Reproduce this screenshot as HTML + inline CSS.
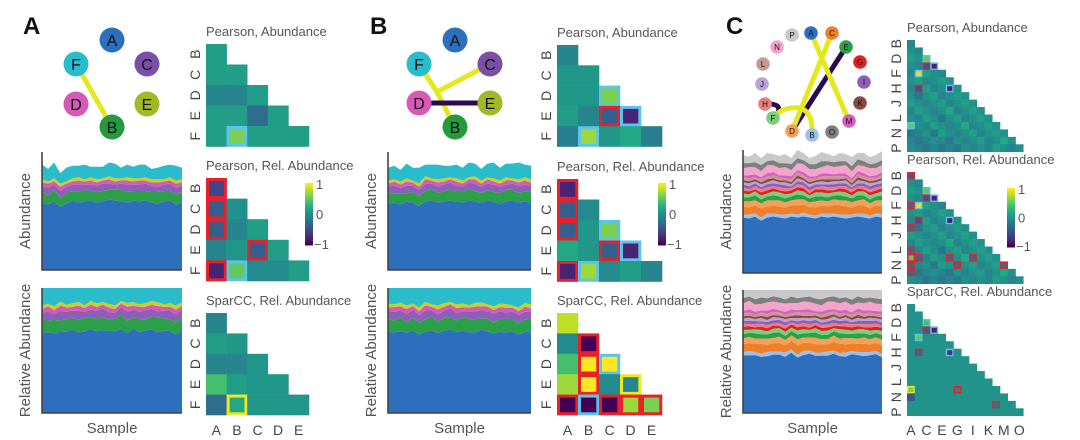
<!DOCTYPE html>
<html><head><meta charset="utf-8">
<style>
html,body{margin:0;padding:0;background:#fff;}
svg{display:block;font-family:"Liberation Sans",sans-serif;}
</style></head>
<body>
<svg id="fig" width="1080" height="440" viewBox="0 0 1080 440" xmlns="http://www.w3.org/2000/svg"></svg>
<script>
// ---------- data ----------
const lettersAB = ["A","B","C","D","E","F"];
const rowLabAB = ["B","C","D","E","F"];
const colLabAB = ["A","B","C","D","E"];
const rowLabC = ["B","C","D","E","F","G","H","I","J","K","L","M","N","O","P"];
const colLabC = ["A","B","C","D","E","F","G","H","I","J","K","L","M","N","O"];

const hmA1 = [[0.1],[0.1,0.1],[-0.1,-0.1,0.1],[0.1,0.1,-0.3,0.1],[0.1,0.6,0.1,0.1,0.1]];
const bdA1 = [[""],["",""],["","",""],["","","",""],["","c","","",""]];
const hmA2 = [[-0.6],[-0.4,0],[-0.4,-0.1,0.1],[-0.1,0.05,-0.4,0.1],[-0.8,0.5,-0.05,-0.05,0.1]];
const bdA2 = [["r"],["r",""],["r","",""],["","","r",""],["r","c","","",""]];
const hmA3 = [[-0.1],[0.1,0.05],[-0.1,-0.1,0.05],[0.4,0.1,0.05,0.05],[-0.3,0.2,0.05,0.05,0.05]];
const bdA3 = [[""],["",""],["","",""],["","","",""],["","y","","",""]];

const hmB1 = [[-0.1],[0.05,0.05],[0.05,0.05,0.6],[0.1,-0.1,-0.4,-0.8],[-0.15,0.7,0.05,0.2,-0.15]];
const bdB1 = [[""],["",""],["","","c"],["","","r","c"],["","c","","",""]];
const hmB2 = [[-0.8],[-0.4,-0.05],[-0.4,0.05,0.6],[0.2,0.05,-0.4,-0.8],[-0.8,0.7,-0.05,0.1,-0.1]];
const bdB2 = [["r"],["r",""],["r","","c"],["","","r","c"],["r","c","","",""]];
const hmB3 = [[0.8],[-0.05,-1],[0.4,1,1],[0.7,1,-0.05,-0.1],[-1,-1,-1,0.7,0.6]];
const bdB3 = [[""],["","r"],["","r","c"],["","r","","y"],["r","c","r","r","r"]];

const bgC = [
 [-0.1],
 [0,-0.1],
 [0.1,0,0.1],
 [0,-0.1,0,0.1],
 [-0.1,0,0.1,0,-0.1],
 [0,0.1,-0.1,0,0.1,0],
 [-0.1,0,0.1,-0.1,0,0.1,0],
 [0,-0.2,0,0.1,-0.1,0,0.1,0],
 [0.1,0,-0.1,0,0.1,-0.1,0,0.1,0],
 [-0.1,0.1,0,-0.1,0,0.2,-0.1,0,0.1,0],
 [0,-0.1,0.1,0,-0.2,0,0.1,-0.1,0,0.1,0],
 [0.1,0,-0.1,0.1,0,-0.1,0,0.2,-0.1,0,0.1,0],
 [-0.2,-0.1,0,-0.2,0.1,0,-0.1,0,0.1,-0.1,0,0.1,0],
 [-0.1,-0.2,-0.1,0,-0.1,-0.2,0,-0.1,0,0.1,-0.1,0,0.2,0],
 [0,-0.1,-0.2,-0.1,-0.2,-0.1,-0.2,0,-0.1,0,-0.1,0.1,0,-0.1,0]
];
const ovC1 = [[2,2,0.5,"c"],[3,2,-0.5,"r"],[3,3,-0.8,"c"],[4,1,0.9,"c"],[6,1,-0.5,"r"],[6,5,-0.8,"c"],[11,0,0.5,"c"]];
const ovC2 = [[0,0,-0.4,"r"],[2,2,0.5,"c"],[3,2,-0.5,"r"],[3,3,-0.8,"c"],[4,0,-0.3,"r"],[4,1,0.9,"c"],[6,1,-0.5,"r"],[6,5,-0.8,"c"],[7,0,-0.3,"r"],[10,0,-0.3,"r"],[11,0,0.5,"r"],[11,1,-0.3,"r"],[11,5,-0.3,"r"],[11,8,-0.3,"r"],[12,0,-0.3,"r"],[12,6,-0.3,"r"],[12,12,-0.3,"r"],[13,0,-0.3,"r"]];
const ovC3 = [[2,2,0.4,"c"],[3,2,-0.4,"r"],[3,3,-0.8,"c"],[4,1,0.5,"c"],[6,1,-0.3,"r"],[6,5,-0.7,"c"],[11,0,0.6,"y"],[11,6,-0.1,"r"],[12,0,-0.5,""],[13,11,-0.2,"r"]];

const abBlue   = [64,62,65,60,63,66,64,65,66,64,65,67,66,65,64,66,65,66,64,63,65,66,62,64];
const abGreen  = [10,9,11,8,10,9,10,11,9,10,10,9,10,11,10,9,10,9,10,11,10,9,10,10];
const abPurple = [6,7,5,7,6,6,7,5,6,6,7,6,5,6,7,6,6,7,6,5,6,7,6,6];
const abPink   = [3,4,3,4,3,3,4,3,4,3,3,4,3,3,4,3,4,3,3,4,3,3,4,3];
const abYgreen = [3,2,3,3,2,3,3,2,3,3,2,3,3,2,3,3,2,3,3,3,2,3,3,3];
const abCyan   = [14,12,15,10,13,12,11,14,10,12,11,13,14,10,12,11,13,12,10,11,13,12,14,11];
const bbBlue   = [63,64,62,65,64,61,65,66,64,65,66,65,64,66,65,64,66,65,63,65,66,64,65,64];
const bbCyan   = [12,13,11,14,12,15,11,13,14,12,11,13,12,14,12,11,13,15,12,13,14,16,12,13];

const cA = [55,54,56,52,55,56,55,54,56,55,56,55,54,56,55,56,55,54,55,56,55,54,56,55];
const cB = [3,4,3,3,4,3,3,4,3,3,4,3,3,3,4,3,3,4,3,3,4,3,3,3];
const cC = [8,7,8,9,7,8,8,7,8,9,8,7,8,8,7,8,9,8,7,8,8,7,8,8];
const cD = [5,6,5,5,6,5,6,5,5,6,5,5,6,5,5,6,5,6,5,5,6,5,5,6];
const cE = [4,4,5,4,4,5,4,4,4,5,4,4,5,4,4,4,5,4,4,5,4,4,4,5];
const cF = [4,3,4,4,3,4,4,4,3,4,4,3,4,4,4,3,4,4,3,4,4,4,3,4];
const cG = [3,3,2,3,3,3,2,3,3,3,3,2,3,3,3,2,3,3,3,3,2,3,3,3];
const cH = [3,2,3,3,3,2,3,3,2,3,3,3,2,3,3,3,2,3,3,2,3,3,3,2];
const cI = [3,3,3,2,3,3,3,3,2,3,3,3,3,2,3,3,3,3,2,3,3,3,3,3];
const cJ = [2,3,2,3,2,3,2,3,2,3,2,3,2,3,2,3,2,3,2,3,2,3,2,3];
const cK = [2,2,2,2,3,2,2,2,2,3,2,2,2,2,3,2,2,2,2,3,2,2,2,2];
const cL = [3,3,2,3,3,3,3,2,3,3,3,3,2,3,3,3,3,2,3,3,3,3,2,3];
const cM = [2,3,3,2,3,3,2,3,3,2,3,3,2,3,3,2,3,3,2,3,3,2,3,3];
const cN = [7,8,7,6,8,7,7,8,6,7,8,7,7,6,8,7,7,8,7,6,7,8,7,7];
const cO = [5,4,5,6,4,5,5,4,6,5,4,5,5,6,4,5,5,4,5,6,5,4,5,5];
const cP = [8,6,9,7,8,6,7,9,6,8,7,6,8,9,7,6,8,7,9,6,8,7,8,9];

// ---------- helpers ----------
const NS = "http://www.w3.org/2000/svg";
const svg = document.getElementById("fig");
function mk(tag, attrs, parent){
  const e = document.createElementNS(NS, tag);
  for (const k in attrs) e.setAttribute(k, attrs[k]);
  (parent||svg).appendChild(e);
  return e;
}
function txt(s, x, y, size, fill, parent, extra){
  const t = mk("text", Object.assign({x:x, y:y, "font-size":size, fill:fill}, extra||{}), parent);
  t.textContent = s;
  return t;
}
const vstops = ["#440154","#482475","#414487","#355f8d","#2a788e","#21918c","#22a884","#44bf70","#7ad151","#bddf26","#fde725"];
function hex2rgb(h){return [parseInt(h.slice(1,3),16),parseInt(h.slice(3,5),16),parseInt(h.slice(5,7),16)];}
function viridis(v){
  let t = Math.max(0, Math.min(1, (v+1)/2)) * 10;
  const i = Math.min(9, Math.floor(t)), f = t - i;
  const a = hex2rgb(vstops[i]), b = hex2rgb(vstops[i+1]);
  return "rgb(" + a.map((c,k)=>Math.round(c+(b[k]-c)*f)).join(",") + ")";
}
const bcol = {r:"#e8202a", c:"#5cc3ea", y:"#eee81c"};

function heatmap(name, x0, y0, cw, ch, vals, borders, rowLab, colLab, every, title, inset){
  const g = mk("g", {}, svg);
  
  
  const tt = txt(title, x0, y0 - 8, 13, "#555", g);
  
  
  const x = c => x0 + c*cw, y = r => y0 + r*ch;
  vals.forEach((row, r) => {
    row.forEach((v, c) => {
      const b = borders ? borders[r][c] : "";
      if (b) {
        const o = mk("rect", {x:x(c), y:y(r), width:cw+0.3, height:ch+0.3, fill:bcol[b]}, g);
        
        
        const cell = mk("rect", {x:x(c)+inset, y:y(r)+inset, width:cw-2*inset+0.3, height:ch-2*inset+0.3, fill:viridis(v)}, g);
        
        
      } else {
        const cell = mk("rect", {x:x(c), y:y(r), width:cw+0.3, height:ch+0.3, fill:viridis(v)}, g);
        
        
      }
    });
  });
  rowLab.forEach((s, r) => {
    if (r % every) return;
    const cx = x0 - 11, cy = y(r) + ch/2;
    const t = txt(s, cx, cy + 5, 14, "#444", g, {"text-anchor":"middle", transform:"rotate(-90 "+cx+" "+cy+")"});
    
    
  });
  if (colLab) colLab.forEach((s, c) => {
    if (c % every) return;
    const t = txt(s, x(c) + cw/2, 435, 14, "#444", g, {"text-anchor":"middle"});
    
    
  });
}
function buildC(bg, ov){
  const vals = bg.map(r => r.slice());
  const bd = bg.map(r => r.map(() => ""));
  ov.forEach(o => { vals[o[0]][o[1]] = o[2]; bd[o[0]][o[1]] = o[3]; });
  return [vals, bd];
}
function colorbar(name, x, y, w, h){
  const g = mk("g", {}, svg);
  
  
  const n = 40;
  for (let i = 0; i < n; i++) {
    mk("rect", {x:x, y:y + i*h/n, width:w, height:h/n+0.5, fill:viridis(1 - 2*i/(n-1))}, g);
  }
  txt("1", x+w+3, y+6, 13, "#555", g);
  txt("0", x+w+3, y+h/2+5, 13, "#555", g);
  txt("\u22121", x+w+1, y+h+4, 13, "#555", g);
}
function stack(name, x0, yTop, w, h, layers, colors, maxV, normalize, yTitle, showSample){
  const g = mk("g", {}, svg);
  
  
  const n = layers[0].length;
  const tot = layers[0].map((_, i) => layers.reduce((s, L) => s + L[i], 0));
  const sx = i => x0 + i * w / (n-1);
  const sy = v => yTop + h - v / maxV * h;
  let base = new Array(n).fill(0);
  layers.forEach((L, k) => {
    const top = L.map((v, i) => base[i] + (normalize ? v / tot[i] : v));
    let pts = top.map((v, i) => sx(i) + "," + sy(v));
    for (let i = n-1; i >= 0; i--) pts.push(sx(i) + "," + sy(base[i]));
    const p = mk("polygon", {points:pts.join(" "), fill:colors[k]}, g);
    
    
    base = top;
  });
  const ax = mk("path", {d:"M"+x0+","+yTop+" V"+(yTop+h)+" H"+(x0+w), stroke:"#444", "stroke-width":1.6, fill:"none"}, g);
  
  
  const cx = x0 - 12, cy = yTop + h/2;
  const yt = txt(yTitle, cx, cy, 15, "#555", g, {"text-anchor":"middle", transform:"rotate(-90 "+cx+" "+cy+")"});
  
  
  if (showSample) {
    const st = txt("Sample", x0 + w/2, yTop + h + 20, 15, "#555", g, {"text-anchor":"middle"});
    
    
  }
}
function node(g, x, y, r, col, lab, fs){
  const c = mk("circle", {cx:x, cy:y, r:r, fill:col}, g);
  
  
  txt(lab, x, y + fs*0.36, fs, "#111", g, {"text-anchor":"middle"});
}
function panelLabel(s, x){
  const t = txt(s, x, 34, 24, "#111", svg, {"font-weight":"bold"});
  
  
}

// ---------- panel A ----------
const colAB = ["#2e6fbd","#2ca048","#8e5fb8","#d659b5","#c4d126","#2bbccc"];
const nodeColAB = {A:"#2e6fbd",B:"#249a3f",C:"#7a4fa6",D:"#d659b5",E:"#a2b925",F:"#2bbccc"};
panelLabel("A", 23);
(function(){
  const g = mk("g", {}, svg);
  
  
  const pos = {A:[112,40],C:[147,64],E:[147,104],B:[112,127],D:[76,104],F:[76,64]};
  mk("line", {x1:76, y1:64, x2:112, y2:127, stroke:"#e6e81e", "stroke-width":5}, g);
  lettersAB.forEach(l => node(g, pos[l][0], pos[l][1], 12.5, nodeColAB[l], l, 16));
})();
heatmap("heatmap-a-pearson-abundance", 206, 44, 20.6, 20.5, hmA1, bdA1, rowLabAB, null, 1, "Pearson, Abundance", 3);
heatmap("heatmap-a-pearson-rel", 206, 178, 20.6, 20.6, hmA2, bdA2, rowLabAB, null, 1, "Pearson, Rel. Abundance", 3);
heatmap("heatmap-a-sparcc-rel", 206, 313, 20.6, 20.4, hmA3, bdA3, rowLabAB, colLabAB, 1, "SparCC, Rel. Abundance", 3);
colorbar("colorbar-a", 305, 183, 8, 62);
stack("stack-a-abundance", 42, 152, 140, 118, [abBlue,abGreen,abPurple,abPink,abYgreen,abCyan], colAB, 112, false, "Abundance", false);
stack("stack-a-relative", 42, 288, 140, 125, [abBlue,abGreen,abPurple,abPink,abYgreen,abCyan], colAB, 1, true, "Relative Abundance", true);

// ---------- panel B ----------
panelLabel("B", 370);
(function(){
  const g = mk("g", {}, svg);
  
  
  const pos = {A:[455,40],C:[490,64],E:[490,103],B:[455,127],D:[419,103],F:[419,64]};
  mk("path", {d:"M419,64 L437,92 L490,64 M437,92 L455,127", stroke:"#e6e81e", "stroke-width":5, fill:"none"}, g);
  mk("line", {x1:419, y1:103, x2:490, y2:103, stroke:"#2a0c4e", "stroke-width":5}, g);
  lettersAB.forEach(l => node(g, pos[l][0], pos[l][1], 12.5, nodeColAB[l], l, 16));
})();
heatmap("heatmap-b-pearson-abundance", 557, 45, 21, 20.3, hmB1, bdB1, rowLabAB, null, 1, "Pearson, Abundance", 3);
heatmap("heatmap-b-pearson-rel", 557, 179, 21, 20.5, hmB2, bdB2, rowLabAB, null, 1, "Pearson, Rel. Abundance", 3);
heatmap("heatmap-b-sparcc-rel", 557, 313, 21, 20.4, hmB3, bdB3, rowLabAB, colLabAB, 1, "SparCC, Rel. Abundance", 3);
colorbar("colorbar-b", 658, 183, 8, 62);
stack("stack-b-abundance", 388, 152, 143, 118, [bbBlue,abGreen,abPurple,abPink,abYgreen,bbCyan], colAB, 112, false, "Abundance", false);
stack("stack-b-relative", 388, 288, 143, 125, [bbBlue,abGreen,abPurple,abPink,abYgreen,bbCyan], colAB, 1, true, "Relative Abundance", true);

// ---------- panel C ----------
const colC = ["#2e6fbd","#9cc0e8","#f07f2a","#f4a058","#2ca048","#7ccf7a","#e21f26","#e87f7f","#8e5fb8","#b9a3d6","#8c4a3f","#c49a93","#d75fbf","#f4a3cc","#7f7f7f","#c9c9c9"];
const nodeLabC = ["A","B","C","D","E","F","G","H","I","J","K","L","M","N","O","P"];
panelLabel("C", 726);
(function(){
  const g = mk("g", {}, svg);
  
  
  const pos = {A:[811,33],C:[832,33],E:[846,47],G:[860,62],I:[864,82],K:[860,103],M:[849,121],O:[832,132],
               B:[812,135],D:[792,131],F:[773,118],H:[765,104],J:[762,84],L:[763,64],N:[777,47],P:[792,35]};
  mk("line", {x1:846, y1:47, x2:792, y2:131, stroke:"#2a0c4e", "stroke-width":5}, g);
  mk("path", {d:"M765,104 Q786,103 775,117", stroke:"#2a0c4e", "stroke-width":5, fill:"none"}, g);
  mk("line", {x1:811, y1:33, x2:849, y2:121, stroke:"#e6e81e", "stroke-width":5}, g);
  mk("line", {x1:832, y1:33, x2:792, y2:131, stroke:"#e6e81e", "stroke-width":5}, g);
  mk("path", {d:"M773,118 Q782,106 800,108 Q813,112 812,133", stroke:"#e6e81e", "stroke-width":5, fill:"none"}, g);
  nodeLabC.forEach((l, i) => node(g, pos[l][0], pos[l][1], 6.8, colC[i], l, 8));
})();
const c1 = buildC(bgC, ovC1), c2 = buildC(bgC, ovC2), c3 = buildC(bgC.map(r => r.map(() => 0.02)), ovC3);
heatmap("heatmap-c-pearson-abundance", 907, 40, 7.75, 7.45, c1[0], c1[1], rowLabC, null, 2, "Pearson, Abundance", 1.5);
heatmap("heatmap-c-pearson-rel", 907, 172, 7.75, 7.45, c2[0], c2[1], rowLabC, null, 2, "Pearson, Rel. Abundance", 1.5);
heatmap("heatmap-c-sparcc-rel", 907, 304, 7.75, 7.45, c3[0], c3[1], rowLabC, colLabC, 2, "SparCC, Rel. Abundance", 1.5);
colorbar("colorbar-c", 1007, 188, 8, 59);
const layersC = [cA,cB,cC,cD,cE,cF,cG,cH,cI,cJ,cK,cL,cM,cN,cO,cP];
stack("stack-c-abundance", 743, 150, 139, 123, layersC, colC, 122, false, "Abundance", false);
stack("stack-c-relative", 743, 290, 139, 123, layersC, colC, 1, true, "Relative Abundance", true);
</script>
</body></html>
